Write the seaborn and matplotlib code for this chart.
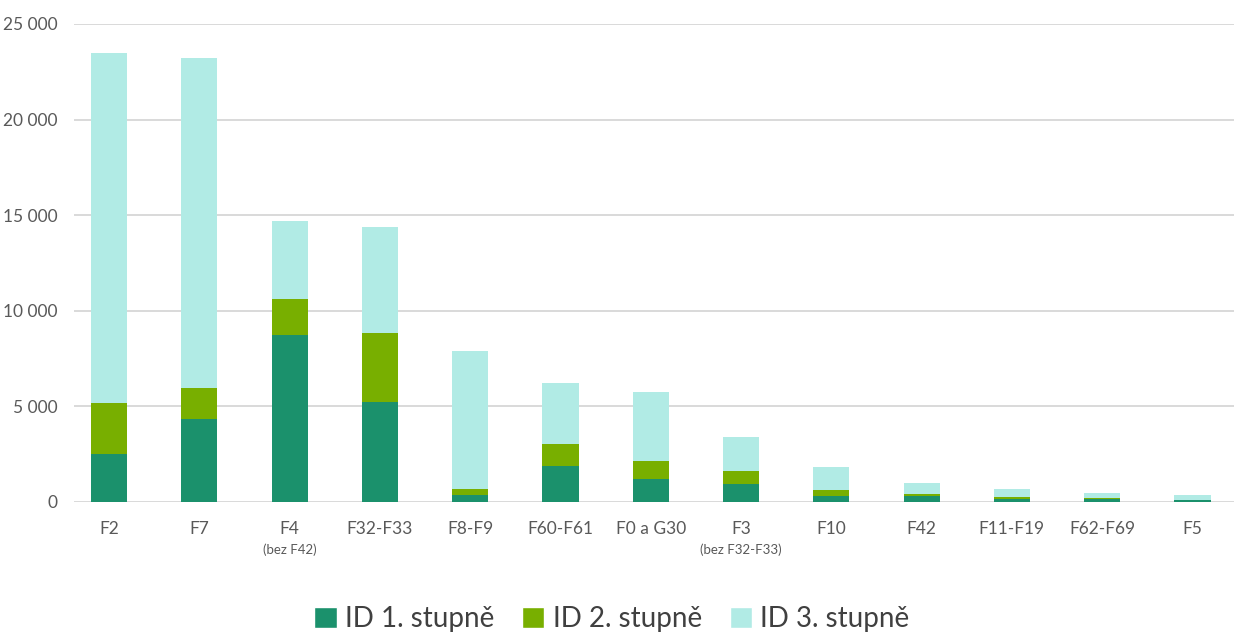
import matplotlib.pyplot as plt
import numpy as np
import pandas as pd
import seaborn as sns
from matplotlib.patches import Patch

categories = ['F2', 'F7', 'F4', 'F32-F33', 'F8-F9', 'F60-F61', 'F0 a G30',
              'F3', 'F10', 'F42', 'F11-F19', 'F62-F69', 'F5']
sublabels = ['', '', '(bez F42)', '', '', '', '', '(bez F32-F33)', '', '', '', '', '']

id1 = [2510, 4340, 8730, 5230, 370, 1880, 1200, 940, 290, 300, 140, 150, 80]
id2 = [2670, 1620, 1890, 3610, 330, 1150, 940, 680, 340, 100, 120, 80, 40]
id3 = [18300, 17260, 4080, 5540, 7200, 3190, 3610, 1780, 1200, 580, 400, 260, 250]

series_names = ['ID 1. stupně', 'ID 2. stupně', 'ID 3. stupně']
colors = ['#1B916C', '#78AF00', '#B1EBE5']

df = pd.DataFrame({'cat': categories, 'id1': id1, 'id2': id2, 'id3': id3})
df['c1'] = df['id1']
df['c2'] = df['id1'] + df['id2']
df['c3'] = df['c2'] + df['id3']

sns.set_style('white')
plt.rcParams['font.family'] = ['Lato', 'DejaVu Sans']

fig = plt.figure(figsize=(12.34, 6.32), dpi=100)
ax = fig.add_axes([74 / 1234, 130 / 632, 1 - 74 / 1234, 478 / 632])

# stacked by overdrawing cumulative totals
for col, color in zip(['c3', 'c2', 'c1'], colors[::-1]):
    sns.barplot(data=df, x='cat', y=col, color=color, width=0.4,
                saturation=1, ax=ax, errorbar=None, linewidth=0)

ax.set_ylim(0, 25000)
ax.set_xlim(-0.388, 12.46)
ax.set_yticks(np.arange(0, 25001, 5000))
ax.set_yticklabels([f'{v:,}'.replace(',', ' ') for v in range(0, 25001, 5000)])
ax.yaxis.grid(True, color='#D9D9D9', linewidth=1.4)
ax.set_axisbelow(True)
for s in ax.spines.values():
    s.set_visible(False)
ax.tick_params(axis='both', length=0, labelsize=12.5, labelcolor='#595959')
ax.tick_params(axis='y', pad=12)
ax.tick_params(axis='x', pad=14)
ax.set_xlabel('')
ax.set_ylabel('')

trans = ax.get_xaxis_transform()
for i, sub in enumerate(sublabels):
    if sub:
        ax.text(i, -0.1, sub, transform=trans, ha='center', va='center',
                fontsize=9.5, color='#595959')

handles = [Patch(facecolor=c, label=n) for c, n in zip(colors, series_names)]
fig.legend(handles=handles, loc='center', bbox_to_anchor=(612 / 1234, 1 - 619 / 632),
           ncol=3, frameon=False, fontsize=20, handlelength=0.8, handleheight=0.8,
           handletextpad=0.3, columnspacing=1.0, labelcolor='#404040')

fig.savefig('out.png', dpi=100)
